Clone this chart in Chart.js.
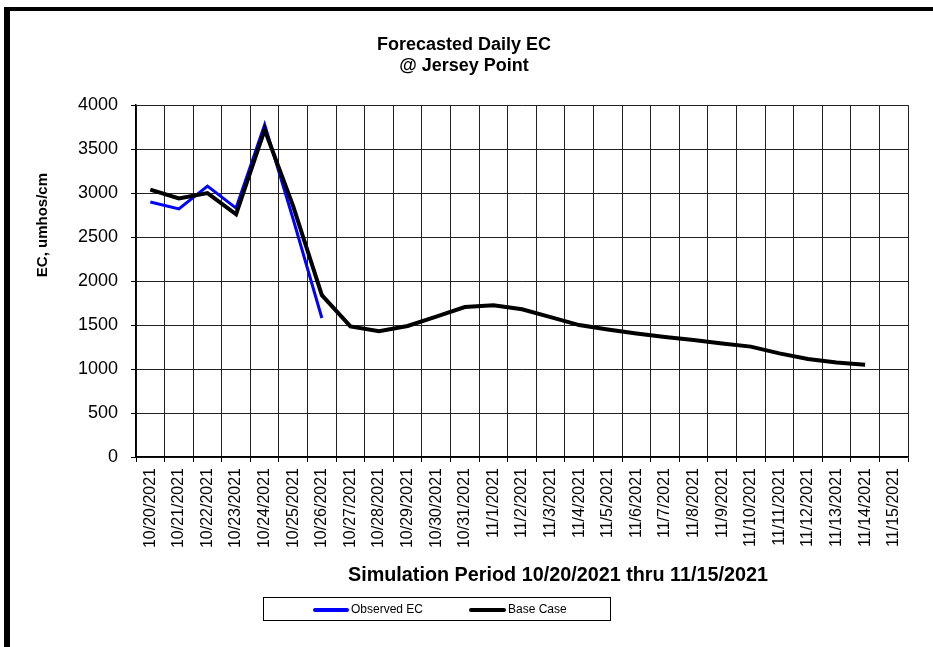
<!DOCTYPE html>
<html>
<head>
<meta charset="utf-8">
<script src="https://cdn.jsdelivr.net/npm/chart.js@4"></script>
<style>
  html, body { margin: 0; padding: 0; background: #fff; overflow: hidden; }
  #wrap { position: relative; width: 933px; height: 647px; }
  #frame {
    position: absolute; left: 4px; top: 7px; width: 924px; height: 700px;
    border-left: 6px solid #000; border-top: 4px solid #000; border-right: 3px solid #000;
    pointer-events: none;
  }
  #legend {
    position: absolute; left: 263px; top: 597px; width: 346px; height: 22px;
    border: 1px solid #000; font: 12px "Liberation Sans", Arial, sans-serif; color: #000;
  }
  .item { position: absolute; top: 0; height: 22px; line-height: 22px; }
  .swatch { display: inline-block; width: 36px; height: 4px; vertical-align: middle; margin-right: 2px; border-radius: 2px; }
</style>
</head>
<body>
<div id="wrap">
  <canvas id="ec-chart" width="933" height="647"></canvas>
  <div id="frame"></div>
  <div id="legend"></div>
</div>
<script>
// Daily EC at Jersey Point, umhos/cm
const dates = ['10/20/2021', '10/21/2021', '10/22/2021', '10/23/2021', '10/24/2021', '10/25/2021',
  '10/26/2021', '10/27/2021', '10/28/2021', '10/29/2021', '10/30/2021', '10/31/2021', '11/1/2021',
  '11/2/2021', '11/3/2021', '11/4/2021', '11/5/2021', '11/6/2021', '11/7/2021', '11/8/2021',
  '11/9/2021', '11/10/2021', '11/11/2021', '11/12/2021', '11/13/2021', '11/14/2021', '11/15/2021'];

const observedEC = [2900, 2820, 3080, 2830, 3780, 2700, 1580, null, null, null, null, null, null,
  null, null, null, null, null, null, null, null, null, null, null, null, null, null];

const baseCase = [3040, 2940, 3000, 2760, 3720, 2850, 1840, 1485, 1430, 1490, 1595, 1705, 1725,
  1680, 1590, 1500, 1450, 1405, 1365, 1330, 1290, 1255, 1178, 1114, 1075, 1050, null];

const yTicks = [0, 500, 1000, 1500, 2000, 2500, 3000, 3500, 4000];

const FONT = "'Liberation Sans', Arial, sans-serif";

// the workbook puts the axis titles off the plot centre: x title to the right, y title higher up
const shiftTitles = {
  id: 'shiftTitles',
  beforeDraw(chart) {
    const moves = { x: [36, 0], y: [0, -56] };
    Object.keys(moves).forEach(id => {
      const sc = chart.scales[id];
      if (sc._shifted) return;
      const orig = sc.drawTitle.bind(sc);
      sc.drawTitle = function () {
        const c = chart.ctx;
        c.save();
        c.translate(moves[id][0], moves[id][1]);
        orig();
        c.restore();
      };
      sc._shifted = true;
    });
  }
};

const ctx = document.getElementById('ec-chart');
const chart = new Chart(ctx, {
  type: 'line',
  data: {
    labels: dates,
    datasets: [
      {
        label: 'Base Case',
        data: baseCase,
        borderColor: '#000',
        borderWidth: 4,
        pointRadius: 0,
        tension: 0,
        fill: false
      },
      {
        label: 'Observed EC',
        data: observedEC,
        borderColor: '#0000ff',
        borderWidth: 3,
        pointRadius: 0,
        tension: 0,
        fill: false
      }
    ]
  },
  options: {
    responsive: false,
    animation: false,
    layout: { padding: { left: 20, right: 25, top: 0, bottom: 60 } },
    plugins: {
      legend: { display: false },
      tooltip: { enabled: false },
      title: {
        display: true,
        text: ['Forecasted Daily EC', '@ Jersey Point'],
        color: '#000',
        font: { family: FONT, size: 18, weight: 'bold', lineHeight: 1.2 },
        padding: { top: 34, bottom: 28 }
      }
    },
    scales: {
      x: {
        offset: true,
        grid: { offset: true, color: '#222', lineWidth: 1, tickLength: 5, tickColor: '#000' },
        border: { color: '#000', width: 1.5 },
        ticks: {
          autoSkip: false,
          minRotation: 90,
          maxRotation: 90,
          padding: 6,
          color: '#000',
          font: { family: FONT, size: 16 }
        },
        title: {
          display: true,
          text: 'Simulation Period 10/20/2021 thru 11/15/2021',
          color: '#000',
          font: { family: FONT, size: 19.8, weight: 'bold', lineHeight: 1.2 },
          padding: { top: 0, bottom: 0 }
        },
        afterFit: (scale) => { scale.height = 130; }
      },
      y: {
        min: 0,
        max: 4000,
        afterBuildTicks: (scale) => { scale.ticks = yTicks.map(v => ({ value: v })); },
        grid: { color: '#222', lineWidth: 1, tickLength: 5, tickColor: '#000' },
        border: { color: '#000', width: 1.5 },
        ticks: {
          padding: 13,
          color: '#000',
          font: { family: FONT, size: 18 },
          callback: (value) => String(value)
        },
        title: {
          display: true,
          text: 'EC, umhos/cm',
          color: '#000',
          font: { family: FONT, size: 15, weight: 'bold', lineHeight: 1.2 },
          padding: { top: 14, bottom: 0 }
        },
        afterFit: (scale) => { scale.width = 116; }
      }
    }
  },
  plugins: [shiftTitles]
});

// legend box in the order of the original workbook
const legendItems = [
  { label: 'Observed EC', color: '#0000ff', left: 49, width: 36 },
  { label: 'Base Case', color: '#000', left: 205, width: 37 }
];
const legendEl = document.getElementById('legend');
legendItems.forEach(it => {
  const d = document.createElement('div');
  d.className = 'item';
  d.style.left = it.left + 'px';
  d.innerHTML = '<span class="swatch" style="background:' + it.color + ';width:' + it.width + 'px"></span>' + it.label;
  legendEl.appendChild(d);
});
</script>
</body>
</html>
